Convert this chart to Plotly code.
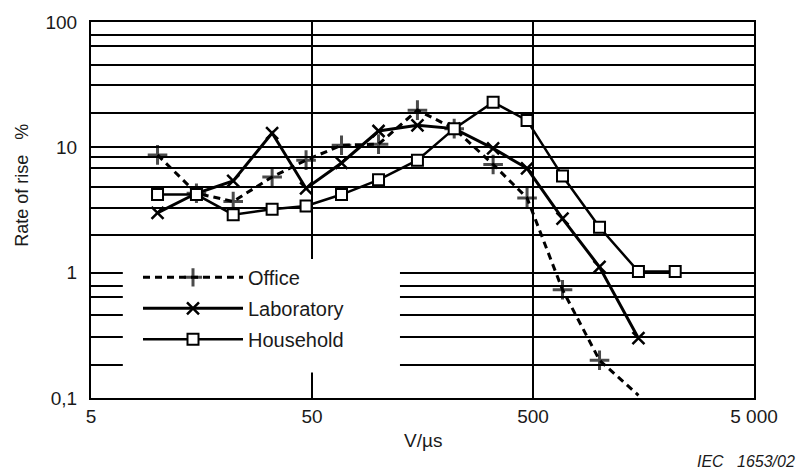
import plotly.graph_objects as go

# ---- data ----
speed = [10, 15, 22, 33, 47, 68, 100, 150, 220, 330, 470, 680, 1000, 1500, 2200]
office = [8.7, 4.3, 3.7, 5.8, 7.9, 10.4, 10.6, 19.8, 14.1, 7.3, 3.95, 0.73, 0.2, 0.105]
laboratory = [3.0, 4.3, 5.4, 13.0, 4.7, 7.5, 13.5, 15.0, 14.1, 9.8, 6.8, 2.7, 1.11, 0.3]
household = [4.2, 4.2, 2.9, 3.2, 3.4, 4.2, 5.5, 7.9, 14.1, 22.9, 16.4, 5.9, 2.3, 1.02, 1.02]

x_tickvals = [5, 50, 500, 5000]
x_ticktext = ["5", "50", "500", "5 000"]
y_tickvals = [0.1, 1, 10, 100]
y_ticktext = ["0,1", "1", "10", "100"]
y_minor_vals = [0.185, 0.308, 0.458, 0.635, 0.79,
                1.98, 3.3, 4.85, 6.8, 8.4,
                18.9, 31.3, 45.8, 64.4, 79]

FONT = "Liberation Sans, Arial, sans-serif"
INK = "#1a1a1a"

fig = go.Figure()

office_sizes = [14] * (len(office) - 1) + [0]
fig.add_trace(go.Scatter(
    x=speed[:len(office)], y=office, name="Office", mode="lines+markers",
    line=dict(color="black", width=3, dash="7px,5px"),
    marker=dict(symbol="cross-thin", size=office_sizes, line=dict(color="black", width=3)),
    legendgroup="a",
))
fig.add_trace(go.Scatter(
    x=speed[:len(laboratory)], y=laboratory, name="Laboratory", mode="lines+markers",
    line=dict(color="black", width=3),
    marker=dict(symbol="x-thin", size=12, line=dict(color="black", width=2.5)),
    legendgroup="b",
))
fig.add_trace(go.Scatter(
    x=speed, y=household, name="Household", mode="lines+markers",
    line=dict(color="black", width=2.5),
    marker=dict(symbol="square", size=11, color="white", line=dict(color="black", width=2)),
    legendgroup="c",
))

# white area behind the legend (gridlines are interrupted there)
fig.add_shape(type="rect", xref="paper", yref="paper",
              x0=0.048, x1=0.466, y0=0.068, y1=0.37,
              fillcolor="white", line=dict(width=0), layer="above")

fig.update_xaxes(
    type="log", range=[0.69897, 3.69897],
    tickvals=x_tickvals, ticktext=x_ticktext,
    showgrid=True, gridcolor="black", gridwidth=1.6,
    showline=True, linecolor="black", linewidth=2, mirror=True,
    ticks="", zeroline=False,
    tickfont=dict(family=FONT, size=19, color=INK),
)
fig.update_yaxes(
    type="log", range=[-1, 2],
    tickvals=y_tickvals, ticktext=y_ticktext,
    showgrid=True, gridcolor="black", gridwidth=1.6,
    minor=dict(tickvals=y_minor_vals, showgrid=True, gridcolor="black", gridwidth=1.5, ticks=""),
    showline=True, linecolor="black", linewidth=2, mirror=True,
    ticks="", zeroline=False, ticklabelstandoff=8,
    tickfont=dict(family=FONT, size=19, color=INK),
)

fig.update_layout(
    width=797, height=470,
    margin=dict(l=91, r=43, t=17, b=72),
    paper_bgcolor="white", plot_bgcolor="white",
    showlegend=True,
    legend=dict(
        x=(138 - 91) / 663, y=(398 - 256) / 381, xanchor="left", yanchor="top",
        bgcolor="rgba(0,0,0,0)", borderwidth=0,
        font=dict(family=FONT, size=20, color=INK),
        itemwidth=100, tracegroupgap=2,
    ),
    annotations=[
        dict(text="V/\u00b5s", xref="paper", yref="paper", x=0.5, y=(398 - 441) / 381,
             showarrow=False, font=dict(family=FONT, size=19, color=INK),
             xanchor="center", yanchor="middle"),
        dict(text="Rate of rise\u00a0\u00a0\u00a0%", xref="paper", yref="paper",
             x=(22 - 91) / 663, y=(398 - 183) / 381, textangle=-90,
             showarrow=False, font=dict(family=FONT, size=18, color=INK),
             xanchor="center", yanchor="middle"),
        dict(text="<i>IEC\u00a0\u00a0\u00a01653/02</i>", xref="paper", yref="paper",
             x=(797 - 91) / 663, y=(398 - 462) / 381,
             showarrow=False, font=dict(family=FONT, size=16, color=INK),
             xanchor="right", yanchor="middle"),
    ],
)

fig.write_html("out.html")
